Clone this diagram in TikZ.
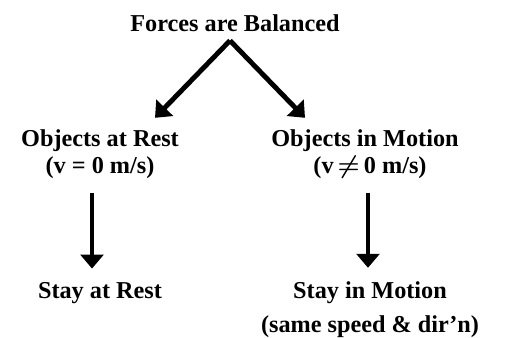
\documentclass[tikz,border=0pt]{standalone}
\usepackage{fontspec}
\setmainfont{Liberation Serif}
\usetikzlibrary{arrows.meta}
\begin{document}
\begin{tikzpicture}[
    txt/.style={font=\bfseries\boldmath\fontsize{13.8}{16}\selectfont, inner sep=0pt, anchor=base},
    arr/.style={line width=2.8pt, -{Triangle[width=13pt,length=8pt]}}
]
    \useasboundingbox (0,0) rectangle (10.1,-6.76);
    % top of the tree
    \node[txt] (top) at (4.70,-0.64) {Forces are Balanced};
    \coordinate (apex) at ([xshift=-0.1cm,yshift=-0.16cm]top.south);
    % middle row
    \node[txt] (rest) at (2.00,-2.94) {Objects at Rest};
    \node[txt] (restv) at (2.00,-3.48) {(v = 0 m/s)};
    \node[txt] (motion) at (7.30,-2.94) {Objects in Motion};
    \node[txt] (motionv) at (7.40,-3.48) {(v\,${\neq}$\,0 m/s)};
    % bottom row
    \node[txt] (stayrest) at (2.00,-5.98) {Stay at Rest};
    \node[txt] (staymotion) at (7.40,-5.98) {Stay in Motion};
    \node[txt] (staysame) at (7.40,-6.64) {(same speed \& dir'n)};
    % arrows
    \draw[arr] (apex) -- ([xshift=1.1cm,yshift=0.24cm]rest.north);
    \draw[arr] (apex) -- ([xshift=-1.2cm,yshift=0.24cm]motion.north);
    \draw[arr] ([xshift=-0.16cm,yshift=-0.26cm]restv.south) -- ([xshift=-0.16cm,yshift=0.28cm]stayrest.north);
    \draw[arr] ([xshift=-0.04cm,yshift=-0.26cm]motionv.south) -- ([xshift=-0.04cm,yshift=0.28cm]staymotion.north);
\end{tikzpicture}
\end{document}
